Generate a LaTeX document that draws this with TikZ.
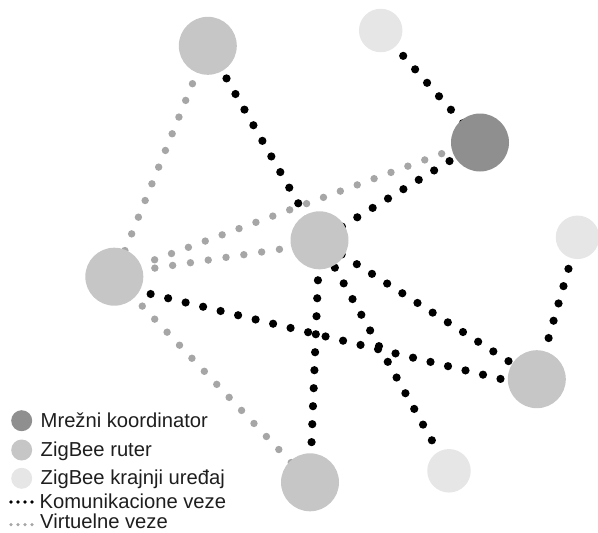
\documentclass[tikz,border=0pt]{standalone}
\usepackage{fontspec}
\setmainfont{Liberation Sans}
\pgfdeclarelayer{links}
\pgfsetlayers{links,main}
\definecolor{coordgray}{HTML}{8F8F8F}
\definecolor{routergray}{HTML}{C6C6C6}
\definecolor{endgray}{HTML}{E6E6E6}
\definecolor{virtgray}{HTML}{A6A6A6}
\definecolor{legendtext}{HTML}{1E1E1E}

\begin{document}
\begin{tikzpicture}[x=1pt,y=-1pt,
  dev/.style={circle, inner sep=0pt, outer sep=0pt},
  coordinator/.style={dev, fill=coordgray, minimum size=58pt},
  router/.style={dev, fill=routergray, minimum size=58pt},
  enddev/.style={dev, fill=endgray, minimum size=43.5pt},
  comm/.style={draw=black, line width=8.2pt, line cap=round, dash pattern=on 0pt off 18pt},
  virt/.style={draw=virtgray, line width=7.4pt, line cap=round, dash pattern=on 0pt off 18pt},
  legcomm/.style={draw=black, line width=3.6pt, line cap=round, dash pattern=on 0pt off 7pt},
  legvirt/.style={draw=virtgray, line width=3.6pt, line cap=round, dash pattern=on 0pt off 7pt},
  legtext/.style={anchor=base west, inner sep=0pt, text=legendtext,
    font=\fontsize{20.2pt}{24pt}\selectfont},
]
\useasboundingbox (0,0) rectangle (598,533);

% network devices
\node[router]      (A) at (207.8,45.8) {};
\node[enddev]      (B) at (380.7,30.5) {};
\node[coordinator] (C) at (480,142.5) {};
\node[router]      (D) at (319.5,240.3) {};
\node[enddev]      (E) at (577.5,237.3) {};
\node[router]      (F) at (114.3,276.7) {};
\node[router]      (G) at (536.8,379.2) {};
\node[enddev]      (H) at (449,470.8) {};
\node[router]      (I) at (310,482.3) {};

% links, kept underneath the devices
\begin{pgfonlayer}{links}
  % virtual links
  \draw[virt, shorten <=40.9pt, shorten >=26pt] (A.center) -- (F.center);
  \draw[virt, shorten <=43pt, shorten >=40pt] ([yshift=2pt]F.center) -- ([yshift=3pt]C.center);
  \draw[virt, shorten <=41pt, shorten >=25pt] ([yshift=2.5pt]F.center) -- ([yshift=-3pt]D.center);
  \draw[virt, shorten <=40.6pt, shorten >=26pt] (F.center) -- (I.center);
  % communication links
  \draw[comm, shorten <=37.6pt, shorten >=24pt] (A.center) -- (D.center);
  \draw[comm, shorten <=33.9pt, shorten >=25pt] (B.center) -- (C.center);
  \draw[comm, shorten <=35.7pt, shorten >=25pt] (C.center) -- (D.center);
  \draw[comm, shorten <=26.3pt, shorten >=33pt] (D.center) -- (G.center);
  \draw[comm, shorten <=40pt, shorten >=38pt] (D.center) -- (I.center);
  \draw[comm, shorten <=31.4pt, shorten >=34pt] (D.center) -- (H.center);
  \draw[comm, shorten <=32.8pt, shorten >=41pt] (E.center) -- (G.center);
  \draw[comm, shorten <=37.4pt, shorten >=37pt] ([yshift=-8.5pt]F.center) -- ([yshift=-8.5pt]G.center);
\end{pgfonlayer}

% legend
\node[coordinator, minimum size=21pt] (lk) at (21.7,420.7) {};
\node[router, minimum size=21pt]      (lr) at (21.7,450) {};
\node[enddev, minimum size=21pt]      (le) at (21.7,478.3) {};
\coordinate (lc1) at (11,502);
\coordinate (lc2) at (32.5,502);
\coordinate (lv1) at (11,524.6);
\coordinate (lv2) at (32.5,524.6);
\draw[legcomm] (lc1) -- (lc2);
\draw[legvirt] (lv1) -- (lv2);
\node[legtext] (tk) at (40.5,427.3) {Mrežni koordinator};
\node[legtext] (tr) at (40.5,456.3) {ZigBee ruter};
\node[legtext] (te) at (40.5,484.2) {ZigBee krajnji uređaj};
\node[legtext] (tc) at (39.5,508.6) {Komunikacione veze};
\node[legtext] (tv) at (40,528.8) {Virtuelne veze};
\end{tikzpicture}
\end{document}
